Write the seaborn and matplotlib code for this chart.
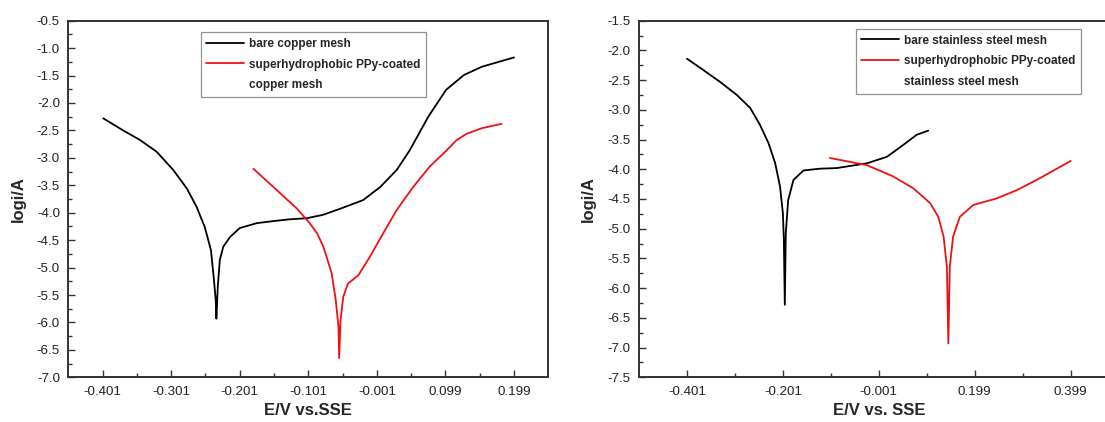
import numpy as np
import matplotlib
matplotlib.use("Agg")
import matplotlib.pyplot as plt
from matplotlib.lines import Line2D
from matplotlib.ticker import MultipleLocator, FixedLocator, FormatStrFormatter
import seaborn as sns

# copper mesh panel
cu_bare_x = [-0.400, -0.371, -0.347, -0.322, -0.298, -0.278, -0.264, -0.252, -0.243,
             -0.239, -0.236, -0.235, -0.233, -0.230, -0.225, -0.215, -0.201, -0.176,
             -0.150, -0.128, -0.103, -0.080, -0.055, -0.021, 0.004, 0.028, 0.047,
             0.074, 0.100, 0.126, 0.152, 0.199]
cu_bare_y = [-2.28, -2.50, -2.67, -2.89, -3.22, -3.56, -3.89, -4.26, -4.68,
             -5.17, -5.59, -5.93, -5.35, -4.86, -4.62, -4.44, -4.28, -4.19,
             -4.15, -4.12, -4.10, -4.04, -3.93, -3.77, -3.53, -3.22, -2.86,
             -2.25, -1.76, -1.49, -1.34, -1.17]
cu_ppy_x = [-0.181, -0.152, -0.118, -0.099, -0.088, -0.079, -0.067, -0.061, -0.057, -0.056,
            -0.054, -0.050, -0.043, -0.028, -0.011, 0.008, 0.028, 0.052, 0.076,
            0.101, 0.115, 0.130, 0.152, 0.181]
cu_ppy_y = [-3.20, -3.53, -3.92, -4.19, -4.38, -4.62, -5.10, -5.59, -6.08, -6.65,
            -5.96, -5.53, -5.29, -5.14, -4.80, -4.38, -3.95, -3.53, -3.16,
            -2.86, -2.68, -2.56, -2.46, -2.38]

# stainless steel mesh panel
ss_bare_x = [-0.401, -0.367, -0.332, -0.297, -0.269, -0.249, -0.231, -0.217, -0.207,
             -0.201, -0.199, -0.197, -0.195, -0.190, -0.179, -0.158, -0.124, -0.089,
             -0.026, 0.016, 0.050, 0.078, 0.102]
ss_bare_y = [-2.14, -2.33, -2.53, -2.75, -2.97, -3.25, -3.56, -3.90, -4.29,
             -4.74, -5.19, -6.28, -5.08, -4.52, -4.18, -4.02, -3.99, -3.98,
             -3.90, -3.79, -3.59, -3.42, -3.35]
ss_ppy_x = [-0.103, -0.026, 0.029, 0.071, 0.106, 0.123, 0.134, 0.141, 0.144,
            0.147, 0.154, 0.168, 0.196, 0.245, 0.287, 0.328, 0.377, 0.399]
ss_ppy_y = [-3.81, -3.93, -4.12, -4.32, -4.57, -4.80, -5.13, -5.64, -6.93,
            -5.64, -5.13, -4.80, -4.60, -4.49, -4.35, -4.18, -3.96, -3.86]

cu_xticks = [-0.401, -0.301, -0.201, -0.101, -0.001, 0.099, 0.199]
ss_xticks = [-0.401, -0.201, -0.001, 0.199, 0.399]

sns.set_style("white")
plt.rcParams['font.family'] = ['Liberation Sans', 'DejaVu Sans']

fig = plt.figure(figsize=(11.05, 4.22), dpi=100)
ax1 = fig.add_axes([0.0618, 0.1059, 0.4344, 0.8451])
ax2 = fig.add_axes([0.5783, 0.1059, 0.4340, 0.8451])


def draw(ax, bx, by, px, py, labels, xticks, xminor, xlim, ylim, xlabel, leg_xy):
    sns.lineplot(x=bx, y=by, ax=ax, color='black', lw=1.3, sort=False, estimator=None)
    sns.lineplot(x=px, y=py, ax=ax, color='#ee1111', lw=1.3, sort=False, estimator=None)
    ax.set_xlim(*xlim)
    ax.set_ylim(*ylim)
    ax.xaxis.set_major_locator(FixedLocator(xticks))
    ax.xaxis.set_minor_locator(FixedLocator(np.array(xticks[:-1]) + xminor))
    ax.set_xticklabels([f"{t:.3f}" for t in xticks])
    ax.yaxis.set_major_locator(MultipleLocator(0.5))
    ax.yaxis.set_minor_locator(MultipleLocator(0.25))
    ax.yaxis.set_major_formatter(FormatStrFormatter('%.1f'))
    ax.tick_params(which='major', direction='in', length=5, width=1, labelsize=9.6,
                   color='#333333', labelcolor='#222222', left=True, bottom=True, pad=6)
    ax.tick_params(which='minor', direction='in', length=3, width=1, color='#333333',
                   left=True, bottom=True)
    for s in ax.spines.values():
        s.set_color('#333333')
        s.set_linewidth(1.4)
    ax.set_xlabel(xlabel, fontsize=12, fontweight='bold', labelpad=4)
    ax.set_ylabel('logi/A', fontsize=12, fontweight='bold', labelpad=8)
    handles = [Line2D([], [], color='black', lw=1.3),
               Line2D([], [], color='#ee1111', lw=1.3),
               Line2D([], [], color='none', lw=0)]
    leg = ax.legend(handles, labels, loc='upper left', bbox_to_anchor=leg_xy,
                    borderaxespad=0, frameon=True, fancybox=False, edgecolor='#777777',
                    prop={'size': 8.5, 'weight': 'bold'}, handlelength=3.2,
                    handletextpad=0.45, labelspacing=0.75, borderpad=0.45)
    leg.get_frame().set_linewidth(0.9)


draw(ax1, cu_bare_x, cu_bare_y, cu_ppy_x, cu_ppy_y,
     ['bare copper mesh', 'superhydrophobic PPy-coated', 'copper mesh'],
     cu_xticks, 0.05, (-0.451, 0.249), (-7.0, -0.5), 'E/V vs.SSE', (0.276, 0.967))
draw(ax2, ss_bare_x, ss_bare_y, ss_ppy_x, ss_ppy_y,
     ['bare stainless steel mesh', 'superhydrophobic PPy-coated', 'stainless steel mesh'],
     ss_xticks, 0.1, (-0.501, 0.499), (-7.5, -1.5), 'E/V vs. SSE', (0.4525, 0.976))

fig.savefig('out.png', dpi=100)
